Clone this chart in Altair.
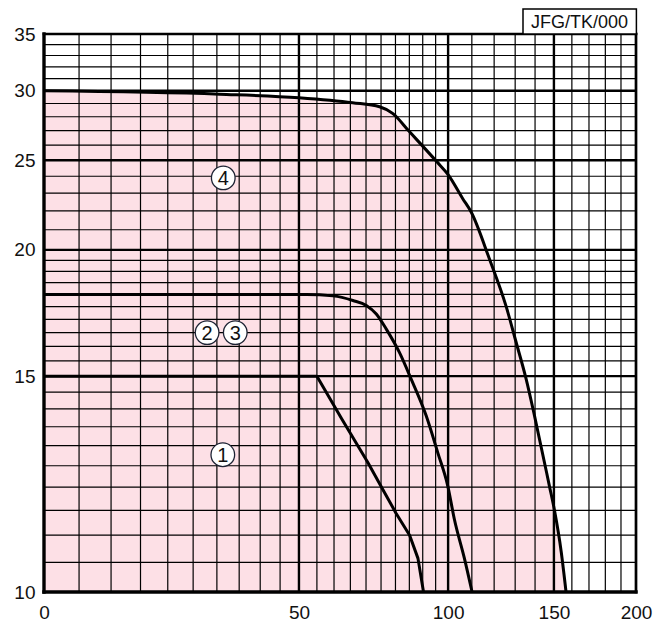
import altair as alt
import pandas as pd

# ---- data ----
curve1_x = [0, 55, 62.4, 70.6, 75.6, 80.2, 85.1, 88.2, 90.3]
curve1_y = [15, 15, 13.71, 12.58, 11.95, 11.44, 11.0, 10.57, 10]

curve23_x = [0, 52, 59.7, 65.8, 70.1, 73.4, 76.8, 81.4, 85.6, 91.3, 95.9, 99.9, 102.6, 106.8, 110.1]
curve23_y = [18, 18, 17.94, 17.75, 17.55, 17.21, 16.63, 15.79, 14.92, 13.81, 12.81, 12.02, 11.31, 10.57, 10]

curve4_x = [0, 30.6, 50, 65.7, 74.5, 79, 85, 95.5, 100, 106.1, 109.7, 117.8, 125.6, 130.5, 135.4, 139.7, 147.6, 150.3, 154, 156.7]
curve4_y = [30, 29.73, 29.45, 29.06, 28.75, 28.25, 26.93, 24.9, 24.1, 22.68, 21.94, 19.58, 17.52, 16.14, 14.92, 13.81, 12.02, 11.5, 10.69, 10]

label_text = ["4", "2", "3", "1"]
label_x = [31.4, 27.9, 34.1, 31.3]
label_y = [23.9, 16.5, 16.5, 12.77]

x_labels = [0, 50, 100, 150, 200]
x_major_inner = [50, 100, 150]
x_minor = [5, 10, 15, 20, 25, 30, 35, 40, 45, 55, 60, 65, 70, 75, 80, 85, 90, 95,
           110, 120, 130, 140, 160, 170, 180, 190]
y_labels = [10, 15, 20, 25, 30, 35]
y_major_inner = [15, 20, 25, 30]
y_minor = [10.5, 11, 11.5, 12, 12.5, 13, 13.5, 14, 14.5, 15.5, 16, 16.5, 17, 17.5, 18, 18.5, 19, 19.5,
           21, 22, 23, 24, 26, 27, 28, 29, 31, 32, 33, 34]

code_label = "JFG/TK/000"

# ---- styling ----
FONT = "Liberation Sans"
W, H = 592, 558
PINK = "#fde0e6"

xscale = alt.Scale(type="log", domain=[50, 250], nice=False)
yscale = alt.Scale(type="log", domain=[5, 30], nice=False)
xaxis = alt.Axis(values=[v + 50 for v in x_labels], labelExpr="'' + round(datum.value - 50)",
                 grid=False, ticks=False, domain=False, title=None, labelFont=FONT,
                 labelFontSize=19, labelColor="#111", labelPadding=11, labelFlush=False,
                 labelOverlap=False)
yaxis = alt.Axis(values=[v - 5 for v in y_labels], labelExpr="'' + round(datum.value + 5)",
                 grid=False, ticks=False, domain=False, title=None, labelFont=FONT,
                 labelFontSize=19, labelColor="#111", labelPadding=9, labelFlush=False,
                 labelOverlap=False)


def X(f="xs"):
    return alt.X(f"{f}:Q", scale=xscale, axis=xaxis)


def Y(f="ys"):
    return alt.Y(f"{f}:Q", scale=yscale, axis=yaxis)


def xdf(vals):
    return alt.Chart(pd.DataFrame({"x": vals})).transform_calculate(xs="datum.x + 50")


def ydf(vals):
    return alt.Chart(pd.DataFrame({"y": vals})).transform_calculate(ys="datum.y - 5")


def curve_df(xv, yv):
    return alt.Chart(pd.DataFrame({"x": xv, "y": yv, "base": [10] * len(xv)})).transform_calculate(
        xs="datum.x + 50", ys="datum.y - 5", ys0="datum.base - 5")


area = curve_df(curve4_x, curve4_y).mark_area(color=PINK, fill=PINK, opacity=1, fillOpacity=1,
                                              interpolate="monotone").encode(
    x=X(), y=Y(), y2=alt.Y2("ys0:Q"))

vminor = xdf(x_minor).mark_rule(color="black", strokeWidth=1.2).encode(x=X())
hminor = ydf(y_minor).mark_rule(color="black", strokeWidth=1.2).encode(y=Y())
vmajor = xdf(x_major_inner).mark_rule(color="black", strokeWidth=2.4).encode(x=X())
hmajor = ydf(y_major_inner).mark_rule(color="black", strokeWidth=2.4).encode(y=Y())

frame_lb_v = xdf([x_labels[0]]).mark_rule(color="black", strokeWidth=3.4, strokeCap="square").encode(x=X())
frame_lb_h = ydf([y_labels[0]]).mark_rule(color="black", strokeWidth=3.4, strokeCap="square").encode(y=Y())
frame_rt_v = xdf([x_labels[-1]]).mark_rule(color="black", strokeWidth=2.7, strokeCap="square").encode(x=X())
frame_rt_h = ydf([y_labels[-1]]).mark_rule(color="black", strokeWidth=2.7, strokeCap="square").encode(y=Y())

lines = []
for (cx, cy), interp in [((curve1_x, curve1_y), "linear"),
                         ((curve23_x, curve23_y), "monotone"),
                         ((curve4_x, curve4_y), "monotone")]:
    lines.append(curve_df(cx, cy).mark_line(color="black", strokeWidth=3, strokeJoin="round",
                                            interpolate=interp).encode(
        x=X(), y=Y(), order="x:Q"))

lab_src = alt.Chart(pd.DataFrame({"t": label_text, "x": label_x, "y": label_y})).transform_calculate(
    xs="datum.x + 50", ys="datum.y - 5")
circles = lab_src.mark_point(shape="circle", filled=True, fill="white", stroke="#1d2233",
                             strokeWidth=1.3, size=560, opacity=1).encode(x=X(), y=Y())
digits = lab_src.mark_text(font=FONT, fontSize=20, color="#111", baseline="middle", dy=1).encode(
    x=X(), y=Y(), text="t:N")

one = alt.Chart(pd.DataFrame({"t": [code_label]}))
box = one.mark_rect(fill="white", stroke="black", strokeWidth=1.5).encode(
    x=alt.value(479), x2=alt.value(592.4), y=alt.value(-25), y2=alt.value(0))
box_text = one.mark_text(font=FONT, fontSize=18, color="#111", align="center", baseline="middle").encode(
    x=alt.value(535.5), y=alt.value(-11.5), text="t:N")

chart = alt.layer(
    area, vminor, hminor, vmajor, hmajor, frame_lb_v, frame_lb_h, frame_rt_v, frame_rt_h,
    *lines, circles, digits, box, box_text
).properties(
    width=W, height=H,
    autosize=alt.AutoSizeParams(type="none"),
    padding={"left": 36, "top": 26, "right": 28, "bottom": 30},
).configure_view(stroke=None).configure(background="white")

chart.save("out.html", embed_options={"renderer": "svg", "actions": False})
